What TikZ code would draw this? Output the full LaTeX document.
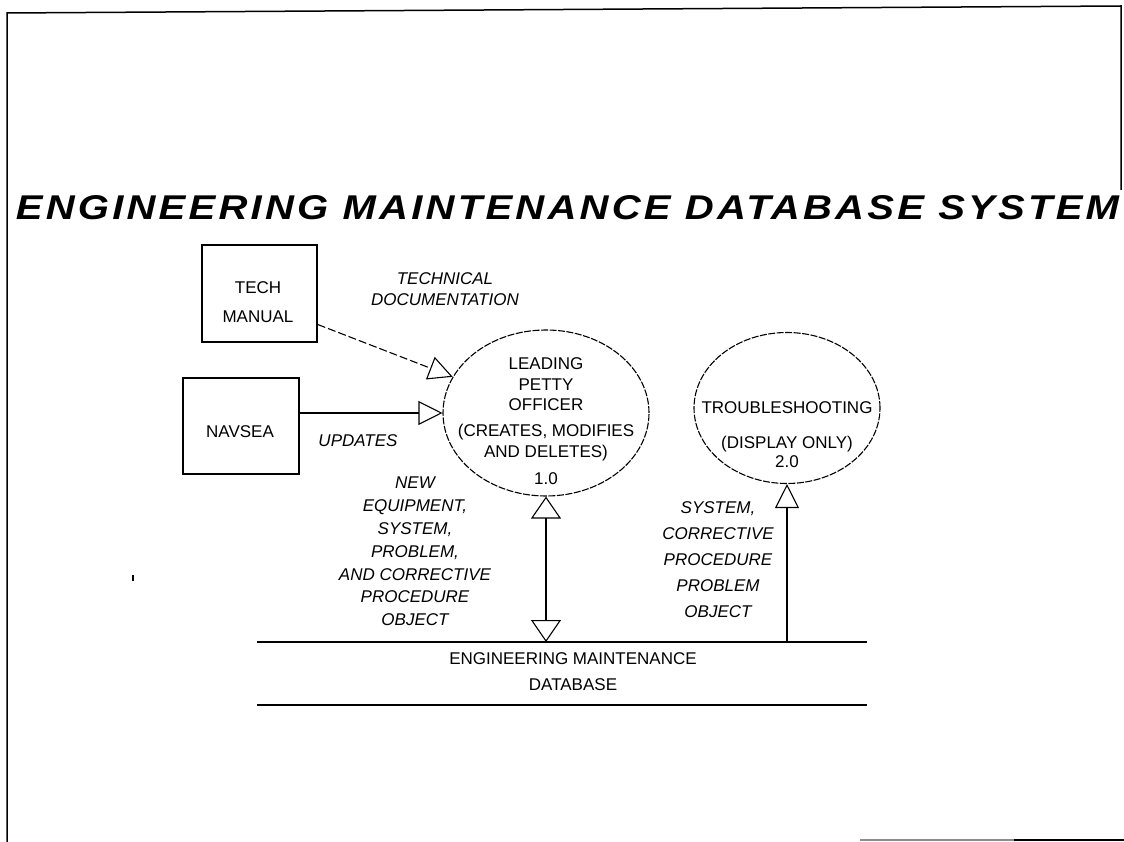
\documentclass[tikz,border=0pt]{standalone}
\usepackage{graphicx}
\usepackage{fontspec}
\setmainfont{Liberation Sans}
\newfontfamily\titlefont[LetterSpace=8]{Liberation Sans}
\usetikzlibrary{arrows.meta,shapes.geometric}
\tikzset{
    entity-box/.style = {draw, line width=1.5pt, rectangle, inner sep=0pt},
    box-text/.style = {inner sep=0pt, align=center, font=\fontsize{17}{29}\selectfont},
    process-circle/.style = {draw, ellipse, line width=1.1pt, dash pattern=on 7pt off 1.5pt, inner sep=0pt},
    process-text/.style = {inner sep=0pt, align=center},
    flow-label/.style = {inner sep=0pt, align=center, font=\itshape},
    flow-arrow/.style = {-{Triangle[open, length=24pt, width=24pt]}, line width=1.1pt},
    flow-both/.style = {{Triangle[open, length=22pt, width=30pt]}-{Triangle[open, length=22pt, width=30pt]}, line width=1.1pt},
    store-line/.style = {line width=1.4pt},
    frame-line/.style = {line width=1.5pt},
    title-text/.style = {inner sep=0pt, font=\titlefont\bfseries\itshape},
}

\begin{document}
\begin{tikzpicture}[x=1pt, y=-1pt]
\useasboundingbox (0,0) rectangle (1124,842);
% page frame
\draw[frame-line] (7,842) -- (7,13) -- (1121,6) -- (1121,190);
\draw[line width=1.5pt, black!45] (860,840) -- (1014,840);
\draw[line width=1.5pt] (1014,840) -- (1124,840);
\draw[line width=1.5pt] (133,575) -- (133,581);

\node[title-text] (title) at (567.5,208) {\resizebox{1103pt}{24pt}{ENGINEERING MAINTENANCE DATABASE SYSTEM}};

% sources
\node[entity-box, minimum width=115pt, minimum height=97pt] (tech) at (259.5,293.5) {};
\node[box-text] (tech-text) at (258,302) {TECH\\MANUAL};
\node[entity-box, minimum width=116pt, minimum height=96pt] (navsea) at (241,426) {};
\node[box-text] (navsea-text) at (240,432) {NAVSEA};

% processes
\node[process-circle, minimum width=206pt, minimum height=166pt] (lpo) at (546,413) {};
\node[process-text, font=\fontsize{17}{20.5}\selectfont] (lpo-text) at (546,421)
    {LEADING\\PETTY\\OFFICER\\[5.5pt](CREATES, MODIFIES\\AND DELETES)\\[6.5pt]1.0};
\node[process-circle, minimum width=186pt, minimum height=151pt] (trouble) at (787,408) {};
\node[process-text, font=\fontsize{17}{19}\selectfont] (trouble-text) at (787,435)
    {TROUBLESHOOTING\\[16pt](DISPLAY ONLY)\\2.0};

% data store
\coordinate (db-top-left) at (257,642);
\coordinate (db-top-right) at (867,642);
\coordinate (db-bottom-left) at (257,705);
\coordinate (db-bottom-right) at (867,705);
\draw[store-line] (db-top-left) -- (db-top-right);
\draw[store-line] (db-bottom-left) -- (db-bottom-right);
\node[process-text, font=\fontsize{17}{26}\selectfont] (db) at (573,672) {ENGINEERING MAINTENANCE\\DATABASE};

% flows
\draw[flow-arrow, dash pattern=on 8pt off 3pt] ([yshift=-31pt]tech.east) -- (lpo);
\draw[flow-arrow] (navsea.east |- lpo.west) -- (lpo.west);
\draw[flow-both] (lpo.south) -- (lpo.south |- db-top-left);
\draw[flow-arrow] (trouble.south |- db-top-left) -- (trouble.south);

\node[flow-label, font=\itshape\fontsize{17}{21}\selectfont] (doc-label) at (445,289.5) {TECHNICAL\\DOCUMENTATION};
\node[flow-label, font=\itshape\fontsize{17}{21}\selectfont] (upd-label) at (358,441) {UPDATES};
\node[flow-label, font=\itshape\fontsize{17}{22.8}\selectfont] (new-label) at (415,551.5)
    {NEW\\EQUIPMENT,\\SYSTEM,\\PROBLEM,\\AND CORRECTIVE\\PROCEDURE\\OBJECT};
\node[flow-label, font=\itshape\fontsize{17}{26}\selectfont] (sys-label) at (718,560)
    {SYSTEM,\\CORRECTIVE\\PROCEDURE\\PROBLEM\\OBJECT};
\end{tikzpicture}
\end{document}
